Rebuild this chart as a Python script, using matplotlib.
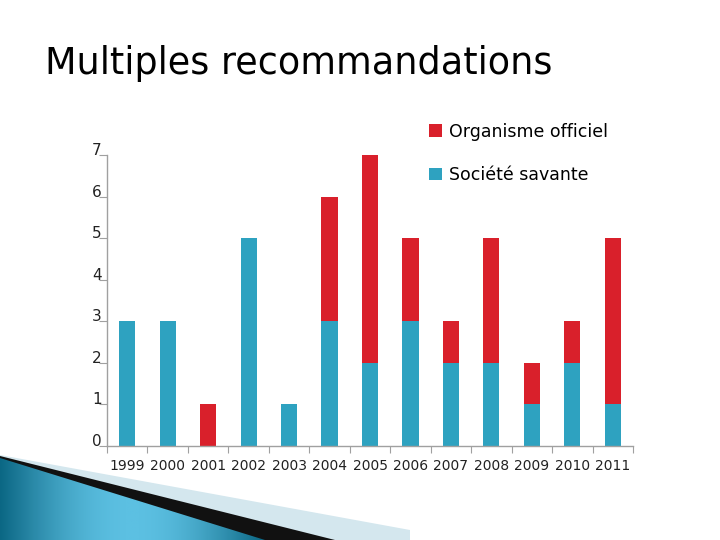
import numpy as np
import matplotlib.pyplot as plt
from matplotlib.patches import Polygon
from matplotlib.colors import LinearSegmentedColormap

# Données
annees = ["1999", "2000", "2001", "2002", "2003", "2004", "2005",
          "2006", "2007", "2008", "2009", "2010", "2011"]
societe_savante = [3, 3, 0, 5, 1, 3, 2, 3, 2, 2, 1, 2, 1]
organisme_officiel = [0, 0, 1, 0, 0, 3, 5, 2, 1, 3, 1, 1, 4]

BLEU = "#2ea2c0"
ROUGE = "#d9202b"
GRIS = "#a0a0a0"

fig = plt.figure(figsize=(7.2, 5.4), dpi=100)

# Décor en bas à gauche (bandes obliques)
deco = fig.add_axes([0, 0, 1, 1], zorder=0)
deco.set_xlim(0, 720)
deco.set_ylim(540, 0)
deco.axis("off")
deco.add_patch(Polygon([(0, 455), (410, 530), (410, 540), (0, 540)],
                       closed=True, color="#d4e7ee", lw=0))
deco.add_patch(Polygon([(0, 456), (335, 540), (0, 540)],
                       closed=True, color="#111111", lw=0))
bleu_poly = Polygon([(0, 458), (265, 540), (0, 540)], closed=True,
                    facecolor="none", lw=0)
deco.add_patch(bleu_poly)
grad = np.sin(np.linspace(0, 1, 256).reshape(1, -1) * np.pi)
cmap = LinearSegmentedColormap.from_list("b", ["#0b6784", "#5cc0e2"])
img = deco.imshow(grad, extent=[0, 265, 540, 455], cmap=cmap,
                  aspect="auto", zorder=1)
img.set_clip_path(bleu_poly)

fig.text(45 / 720, 1 - 63 / 540, "Multiples recommandations",
         fontsize=26.3, va="center", ha="left")

ax = fig.add_axes([107 / 720, 94 / 540, 526 / 720, 291 / 540], zorder=2)
ax.patch.set_alpha(0)

x = np.arange(len(annees))
largeur = 0.4
ax.bar(x, societe_savante, largeur, color=BLEU, label="Société savante")
ax.bar(x, organisme_officiel, largeur, bottom=societe_savante,
       color=ROUGE, label="Organisme officiel")

ax.set_xlim(-0.5, len(annees) - 0.5)
ax.set_ylim(0, 7)

for s in ["top", "right"]:
    ax.spines[s].set_visible(False)
for s in ["left", "bottom"]:
    ax.spines[s].set_color(GRIS)
    ax.spines[s].set_linewidth(1)

ax.set_yticks(range(0, 8))
ax.tick_params(axis="y", length=6, color=GRIS, labelsize=11, pad=-2,
               labelcolor="#222222")
for lab in ax.get_yticklabels():
    lab.set_va("baseline")

ax.set_xticks(np.arange(-0.5, len(annees), 1))
ax.set_xticklabels([])
ax.tick_params(axis="x", which="major", length=5, color=GRIS)
ax.set_xticks(x, minor=True)
ax.set_xticklabels(annees, minor=True)
ax.tick_params(axis="x", which="minor", length=0, labelsize=10, pad=9,
               labelcolor="#222222")

handles, labels = ax.get_legend_handles_labels()
ax.legend(handles[::-1], labels[::-1], loc="upper left",
          bbox_to_anchor=(413 / 720, 1 - 107 / 540),
          bbox_transform=fig.transFigure, frameon=False, fontsize=12.5,
          handlelength=0.75, handleheight=0.75, handletextpad=0.45,
          labelspacing=1.47)

plt.savefig("out.png", dpi=100)
